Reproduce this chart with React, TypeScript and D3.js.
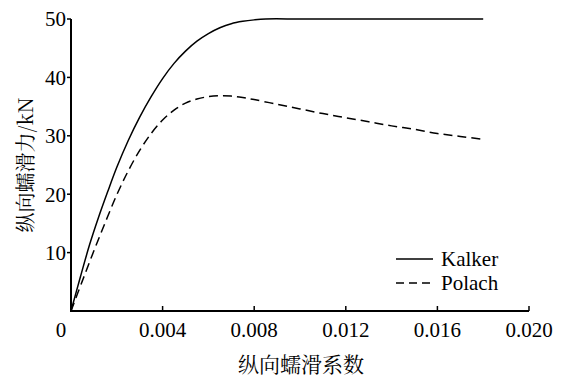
import React from "react";
import * as d3 from "d3";

// Kalker 曲线
const kalkerX = [0, 0.0004, 0.0008, 0.0012, 0.0016, 0.002, 0.0025, 0.003, 0.0035, 0.004, 0.0045, 0.005, 0.0055, 0.006, 0.0065, 0.007, 0.0075, 0.008, 0.0085, 0.01, 0.012, 0.014, 0.016, 0.018];
const kalkerY = [0, 5.7, 11.2, 16.0, 20.4, 24.6, 29.2, 33.2, 36.7, 39.8, 42.4, 44.5, 46.2, 47.5, 48.5, 49.2, 49.6, 49.85, 50, 50, 50, 50, 50, 50];

// Polach 曲线
const polachX = [0, 0.0005, 0.001, 0.0015, 0.002, 0.0025, 0.003, 0.0035, 0.004, 0.0045, 0.005, 0.0055, 0.006, 0.0065, 0.007, 0.0075, 0.008, 0.009, 0.01, 0.011, 0.012, 0.013, 0.014, 0.015, 0.016, 0.017, 0.018];
const polachY = [0, 5.2, 10.3, 15.2, 19.9, 24.0, 27.5, 30.4, 32.7, 34.4, 35.6, 36.3, 36.7, 36.85, 36.8, 36.55, 36.2, 35.4, 34.6, 33.8, 33.1, 32.4, 31.7, 31.1, 30.4, 29.9, 29.4];

const xTicks = [0.004, 0.008, 0.012, 0.016, 0.02];
const xTickLabels = ["0.004", "0.008", "0.012", "0.016", "0.020"];
const yTicks = [10, 20, 30, 40, 50];

const seriesNames = ["Kalker", "Polach"];

const width = 561;
const height = 377;
const margin = { top: 19, right: 32, bottom: 66, left: 71 };
const serif = '"Liberation Serif"';
const cjk = '"Noto Serif CJK SC"';

const App = () => {
  const x = d3.scaleLinear().domain([0, 0.02]).range([margin.left, width - margin.right]);
  const y = d3.scaleLinear().domain([0, 50]).range([height - margin.bottom, margin.top]);

  const line = d3
    .line<number[]>()
    .x((d) => x(d[0]))
    .y((d) => y(d[1]))
    .curve(d3.curveCatmullRom.alpha(0.5));

  const kalker = kalkerX.map((v, i) => [v, kalkerY[i]]);
  const polach = polachX.map((v, i) => [v, polachY[i]]);

  const x0 = x(0);
  const y0 = y(0);

  return (
    <div style={{ position: "absolute", left: 0, top: 0 }}>
      <svg width={width} height={height}>
        {/* curves */}
        <path d={line(kalker) || ""} fill="none" stroke="#000" strokeWidth={1.5} />
        <path d={line(polach) || ""} fill="none" stroke="#000" strokeWidth={1.5} strokeDasharray="9,5" />

        {/* x axis */}
        <line x1={x0} x2={x(0.02)} y1={y0} y2={y0} stroke="#000" strokeWidth={2} />
        {xTicks.map((t, i) => (
          <g key={t}>
            <line x1={x(t)} x2={x(t)} y1={y0} y2={y0 - 5} stroke="#000" strokeWidth={1.5} />
            <text
              x={x(t)}
              y={y0 + 26}
              textAnchor="middle"
              style={{ fontFamily: serif, fontSize: "21px" }}
            >
              {xTickLabels[i]}
            </text>
          </g>
        ))}
        <text x={x0 - 10} y={y0 + 26} textAnchor="middle" style={{ fontFamily: serif, fontSize: "21px" }}>
          0
        </text>

        {/* y axis */}
        <line x1={x0} x2={x0} y1={y0 + 1} y2={y(50)} stroke="#000" strokeWidth={2} />
        {yTicks.map((t) => (
          <g key={t}>
            <line x1={x0 - 4} x2={x0} y1={y(t)} y2={y(t)} stroke="#000" strokeWidth={1.5} />
            <text
              x={x0 - 5}
              y={y(t)}
              dy="0.35em"
              textAnchor="end"
              style={{ fontFamily: serif, fontSize: "21px" }}
            >
              {t}
            </text>
          </g>
        ))}

        {/* legend */}
        {seriesNames.map((name, i) => (
          <g key={name} transform={`translate(396,${259 + i * 24})`}>
            <line
              x1={0}
              x2={37}
              y1={0}
              y2={0}
              stroke="#000"
              strokeWidth={1.5}
              strokeDasharray={i === 1 ? "8,5" : undefined}
            />
            <text x={45} y={0} dy="0.35em" style={{ fontFamily: serif, fontSize: "21px" }}>
              {name}
            </text>
          </g>
        ))}

        {/* axis titles */}
        <text x={301} y={372} textAnchor="middle" style={{ fontFamily: cjk, fontSize: "21px" }}>
          纵向蠕滑系数
        </text>
        <text
          transform="translate(33,165) rotate(-90)"
          textAnchor="middle"
          style={{ fontFamily: cjk, fontSize: "20px" }}
        >
          纵向蠕滑力/kN
        </text>
      </svg>
    </div>
  );
};

export default App;
